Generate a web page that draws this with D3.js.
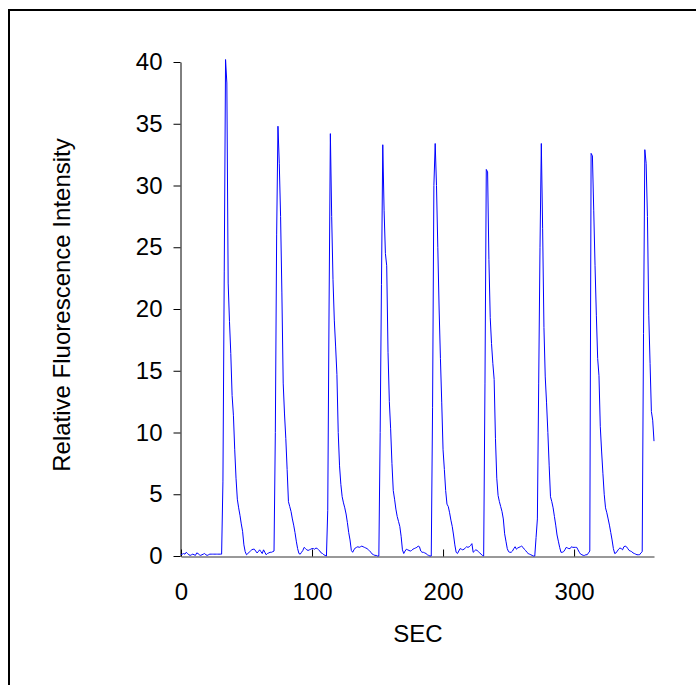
<!DOCTYPE html>
<html>
<head>
<meta charset="utf-8">
<script src="https://cdn.jsdelivr.net/npm/d3@7"></script>
<style>
  html, body { margin: 0; padding: 0; background: #fff; }
  svg { display: block; }
  text { font-family: "Liberation Sans", Arial, Helvetica, sans-serif; fill: #000; }
</style>
</head>
<body>
<svg id="chart" width="696" height="685"></svg>
<script>
// Start second of each recorded segment (values are 1 s apart)
const segmentStart = [0, 32, 72, 112, 152, 192, 232, 271, 313, 353];

// Relative fluorescence intensity, one value per second
const baseline0 = [0.1,0.15,0.2,0.15,0.3,0.2,0.1,0.05,0.1,0.15,0.1,0.05,0.25,0.2,0.1,0.05,
  0.1,0.15,0.2,0.1,0.05,0.1,0.15,0.15,0.15,0.15,0.15,0.15,0.15,0.15,0.15,0.15];
const cycle1 = [6,23,40.2,38.3,22.1,19.0,16.4,13.0,11.4,8.6,6.3,4.6,3.9,3.3,2.6,2.0,0.9,0.35,0.1,0.2,
  0.3,0.4,0.5,0.55,0.55,0.4,0.25,0.35,0.5,0.35,0.2,0.5,0.3,0.1,0.2,0.25,0.3,0.3,0.35,0.4];
const cycle2 = [10,26,34.8,31.8,27.5,21.3,14.0,11.5,9.5,7.0,4.4,4.0,3.6,3.0,2.5,1.9,1.2,0.6,0.2,0.15,
  0.3,0.45,0.7,0.6,0.5,0.45,0.5,0.55,0.6,0.6,0.55,0.65,0.6,0.5,0.4,0.25,0.2,0.1,0.05,0.0];
const cycle3 = [3.7,20,34.2,27.5,22.4,19.1,17.0,14.7,10.0,7.3,5.8,4.8,4.3,3.9,3.4,2.7,1.9,1.3,0.45,0.3,
  0.5,0.65,0.7,0.75,0.7,0.75,0.8,0.75,0.7,0.65,0.6,0.5,0.4,0.3,0.15,0.1,0.05,0.05,0.0,0.0];
const cycle4 = [10,22,33.3,28,24.5,23.5,16.5,12.5,10.3,7.5,5.3,4.6,3.8,3.2,2.8,2.4,1.6,0.5,0.2,0.4,
  0.55,0.5,0.45,0.4,0.45,0.55,0.6,0.65,0.7,0.8,0.75,0.4,0.3,0.3,0.25,0.2,0.1,0.05,0.0,0.0];
const cycle5 = [12,30,33.4,30,25,20,16,12.4,8.6,7.0,5.3,4.2,4.0,3.5,2.9,2.4,1.7,0.9,0.3,0.2,
  0.4,0.6,0.55,0.5,0.55,0.65,0.75,0.7,0.75,0.85,1.0,0.3,0.4,0.5,0.45,0.35,0.25,0.15,0.05,0.0];
const cycle6 = [14,31.3,31.1,24,19.3,17.2,15.6,14.3,9.5,6.3,4.9,4.4,4.0,3.6,3.0,1.8,1.2,0.6,0.35,0.3,
  0.3,0.4,0.6,0.75,0.55,0.65,0.7,0.75,0.8,0.7,0.55,0.45,0.3,0.2,0.15,0.1,0.05,0.0,0.0];
const cycle7 = [1.5,3.0,14,25,33.4,26.5,18.5,14.5,12.4,10.0,7.3,4.8,4.4,3.9,3.2,2.5,1.7,1.2,0.7,0.3,
  0.3,0.35,0.5,0.7,0.65,0.6,0.6,0.75,0.7,0.7,0.7,0.7,0.5,0.3,0.15,0.1,0.05,0.05,0.1,0.1,0.25,0.4];
const cycle8 = [32.6,32.4,28,23.5,19.5,16,14.6,10.5,8.5,6.7,5.0,3.9,3.5,3.0,2.5,1.9,1.3,0.6,0.2,0.25,
  0.4,0.55,0.65,0.6,0.5,0.75,0.8,0.75,0.6,0.45,0.4,0.35,0.25,0.2,0.15,0.1,0.1,0.1,0.25,0.35];
const cycle9 = [18,32.9,31.8,27.5,19.5,15.6,11.7,11.0,9.3];

const segments = [baseline0, cycle1, cycle2, cycle3, cycle4, cycle5, cycle6, cycle7, cycle8, cycle9];

const xTicks = [0, 100, 200, 300];
const yTicks = [0, 5, 10, 15, 20, 25, 30, 35, 40];
const xLabel = "SEC";
const yLabel = "Relative Fluorescence Intensity";

const data = [];
segments.forEach((seg, k) => seg.forEach((v, i) => data.push({ t: segmentStart[k] + i, v })));

const svg = d3.select("#chart");
const FONT = "'Liberation Sans', Arial, sans-serif";

// outer frame
svg.append("rect")
  .attr("x", 9).attr("y", 10).attr("width", 720).attr("height", 720)
  .attr("fill", "none").attr("stroke", "#000").attr("stroke-width", 2);

const x = d3.scaleLinear().domain([0, d3.max(data, d => d.t)]).range([181, 654]);
const y = d3.scaleLinear().domain([0, 40]).range([556, 62]);

// y axis
const gy = svg.append("g").attr("transform", "translate(180.5,0)")
  .call(d3.axisLeft(y).tickValues(yTicks).tickSizeInner(7).tickSizeOuter(0).tickPadding(11));
gy.select(".domain").attr("stroke", "#000");
gy.selectAll(".tick line").attr("stroke", "#000");
gy.selectAll("text").attr("font-size", 24).attr("font-family", FONT);

// x axis (ticks pointing inward)
const gx = svg.append("g").attr("transform", "translate(0,556.5)")
  .call(d3.axisBottom(x).tickValues(xTicks).tickSizeInner(-7).tickSizeOuter(0).tickPadding(26));
gx.select(".domain").attr("stroke", "#333");
gx.selectAll(".tick line").attr("stroke", "#000");
gx.selectAll("text").attr("font-size", 24).attr("font-family", FONT);

// data line
const line = d3.line().x(d => x(d.t)).y(d => y(d.v));
svg.append("path").datum(data)
  .attr("d", line)
  .attr("fill", "none")
  .attr("stroke", "#0000ff")
  .attr("stroke-width", 1)
  .attr("stroke-linejoin", "miter");

// axis titles
svg.append("text")
  .attr("x", 418).attr("y", 642)
  .attr("text-anchor", "middle")
  .attr("font-size", 24)
  .attr("font-family", FONT)
  .text(xLabel);

svg.append("text")
  .attr("transform", "translate(70,305) rotate(-90)")
  .attr("text-anchor", "middle")
  .attr("font-size", 24)
  .attr("font-family", FONT)
  .text(yLabel);
</script>
</body>
</html>
